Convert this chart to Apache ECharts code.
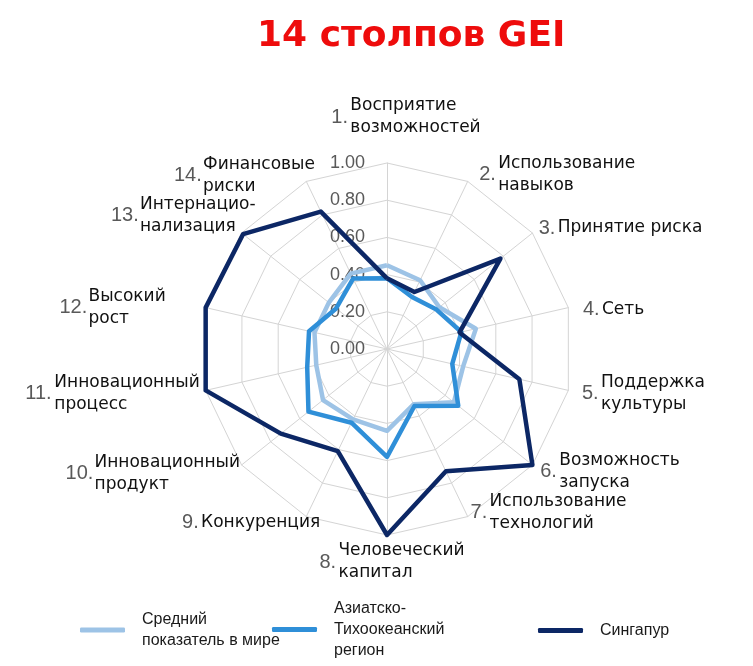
<!DOCTYPE html>
<html>
<head>
<meta charset="utf-8">
<script src="https://cdn.jsdelivr.net/npm/echarts@6/dist/echarts.min.js"></script>
<style>
  html, body { margin: 0; padding: 0; background: #fff; }
  #chart { width: 753px; height: 666px; }
</style>
</head>
<body>
<div id="chart"></div>
<script>
// 14 столпов, по часовой стрелке начиная сверху
var pillars = [
    'Восприятие\nвозможностей',
    'Использование\nнавыков',
    'Принятие риска',
    'Сеть',
    'Поддержка\nкультуры',
    'Возможность\nзапуска',
    'Использование\nтехнологий',
    'Человеческий\nкапитал',
    'Конкуренция',
    'Инновационный\nпродукт',
    'Инновационный\nпроцесс',
    'Высокий\nрост',
    'Интернацио-\nнализация',
    'Финансовые\nриски'
];
var worldAvg  = [0.45, 0.41, 0.36, 0.49, 0.42, 0.46, 0.33, 0.44, 0.42, 0.44, 0.39, 0.40, 0.40, 0.45];
var asiaPac   = [0.38, 0.31, 0.34, 0.41, 0.36, 0.49, 0.34, 0.58, 0.44, 0.54, 0.44, 0.43, 0.35, 0.42];
var singapore = [0.38, 0.34, 0.78, 0.40, 0.73, 1.00, 0.73, 1.00, 0.61, 0.73, 1.00, 1.00, 0.99, 0.82];
var seriesNames = ['Средний\nпоказатель в мире', 'Азиатско-\nТихоокеанский\nрегион', 'Сингапур'];
var seriesColors = ['#9dc3e6', '#2f8fd8', '#0c2765'];

// подгонка подписей: отступ от многоугольника, сдвиг по x (пробел-заполнитель), сдвиг по y
var nameGaps = [24, 8, 8, 15, 14, 10, 2, 5, -32, 2, 6, 41, -18, -20];
var nameDx   = [38, 8, 0, 0, 0, 0, 2, 10, 0, 0, 0, 0, 0, 0];
var nameDy   = [0, 0, 0, 5, 0, 0, -6, 0, 35, 7, 2, 9, -29, -24];

// radar в echarts идёт против часовой — переставляем порядок
function toCcw(arr) {
    return [arr[0]].concat(arr.slice(1).reverse());
}
var order = toCcw(pillars.map(function (p, i) { return i; }));

var indicators = order.map(function (i) {
    var ind = { name: pillars[i], max: 1, min: 0, nameGap: nameGaps[i] };
    if (i === 0) {
        ind.axisLabel = { show: true };
    }
    return ind;
});

var numStyle = { fontFamily: 'Liberation Sans', fontSize: 20, color: '#595959', align: 'left', lineHeight: 22 };
function numRich(extra) {
    return Object.assign({}, numStyle, extra);
}
var rich = {
    a1: numRich({ width: 19 }),
    a2: numRich({ width: 29 }),
    b1: numRich({ width: 19, height: 44, verticalAlign: 'top' }),
    b2: numRich({ width: 29, height: 44, verticalAlign: 'top' }),
    s1: numRich({ width: 19 }),
    s2: numRich({ width: 29 }),
    t:  { fontFamily: 'DejaVu Sans', fontSize: 17, color: '#111', align: 'left', lineHeight: 22 }
};
nameDx.forEach(function (d) {
    if (d) rich['h' + d] = { width: d, align: 'left', fontSize: 1, lineHeight: 22 };
});
nameDy.forEach(function (d) {
    if (d) rich['v' + Math.abs(d)] = { fontSize: 1, lineHeight: Math.abs(d) * 2 };
});

function labelFmt(name) {
    var idx = pillars.indexOf(name);
    var n = idx + 1;
    var lines = name.split('\n');
    var two = n >= 10 ? '2' : '1';
    var lead = nameDx[idx] ? '{h' + nameDx[idx] + '| }' : '';
    var out;
    if (lines.length === 1) {
        out = [lead + '{a' + two + '|' + n + '.}{t|' + lines[0] + '}'];
    } else {
        out = lines.map(function (l, k) {
            return lead + (k === 0 ? '{b' + two + '|' + n + '.}' : '{s' + two + '| }') + '{t|' + l + '}';
        });
    }
    var dy = nameDy[idx];
    if (dy > 0) out.unshift('{v' + dy + '| }');
    if (dy < 0) out.push('{v' + (-dy) + '| }');
    return out.join('\n');
}

var myChart = echarts.init(document.getElementById('chart'));

var option = {
    backgroundColor: '#fff',
    title: {
        text: '14 столпов GEI',
        left: 252, top: 14,
        textStyle: { fontFamily: 'DejaVu Sans', fontWeight: 'bold', fontSize: 36, color: '#ee0c0c' }
    },
    legend: seriesNames.map(function (nm, i) {
        var lefts = [80, 272, 538];
        var tops = [609, 598, 620];
        return {
            data: [nm], left: lefts[i], top: tops[i], padding: 0,
            icon: 'roundRect', itemWidth: 45, itemHeight: 5,
            selectedMode: false,
            textStyle: {
                fontFamily: 'Liberation Sans', fontSize: 16, color: '#1a1a1a',
                lineHeight: 21, padding: [0, 0, 0, 12]
            }
        };
    }),
    radar: {
        center: [387, 349],
        radius: 186,
        startAngle: 90,
        shape: 'polygon',
        splitNumber: 5,
        nameGap: 10,
        indicator: indicators,
        axisName: {
            formatter: labelFmt,
            rich: rich
        },
        axisLine: { lineStyle: { color: '#d4d4d4', width: 1 } },
        splitLine: { lineStyle: { color: '#d4d4d4', width: 1 } },
        splitArea: { show: false },
        axisTick: { show: false },
        axisLabel: {
            show: false,
            formatter: function (v) { return v.toFixed(2); },
            fontFamily: 'Liberation Sans', fontSize: 18, color: '#595959',
            margin: 22
        }
    },
    series: [{
        type: 'radar',
        symbol: 'none',
        silent: true,
        data: [worldAvg, asiaPac, singapore].map(function (vals, i) {
            return {
                name: seriesNames[i],
                value: toCcw(vals),
                lineStyle: { color: seriesColors[i], width: 4.5 },
                itemStyle: { color: seriesColors[i] }
            };
        })
    }]
};
myChart.setOption(option);
</script>
</body>
</html>
